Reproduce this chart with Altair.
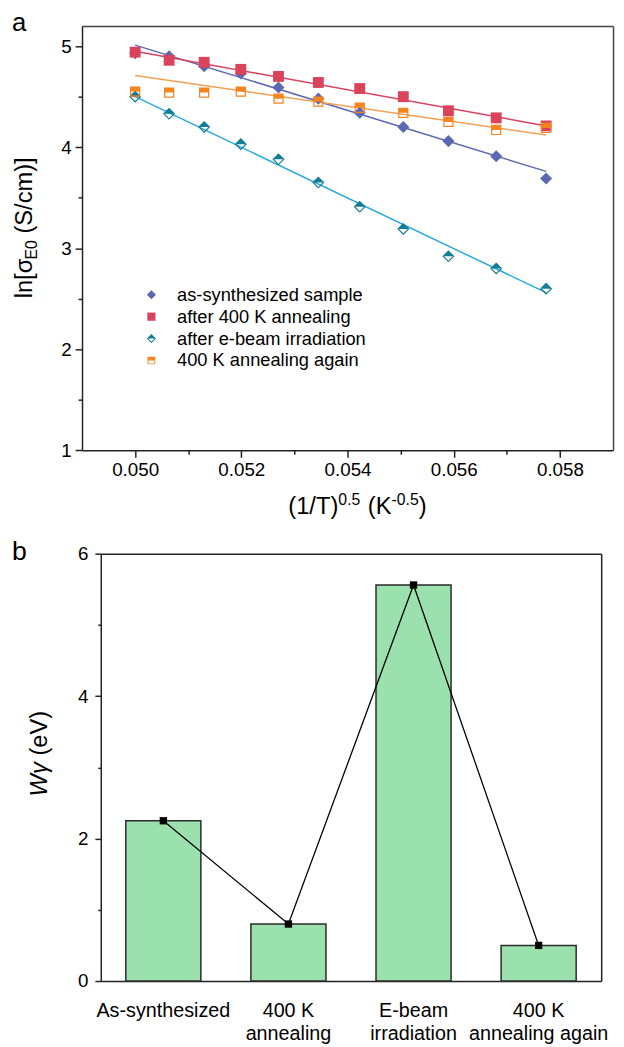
import altair as alt
import pandas as pd

FONT = "Liberation Sans"
W, H = 616, 1039

# ---------------- Panel a data ----------------
x_vals = [0.05000, 0.05064, 0.05130, 0.05199, 0.05270, 0.05345,
          0.05423, 0.05505, 0.05590, 0.05680, 0.05774]
series_names = ["as-synthesized sample", "after 400 K annealing",
                "after e-beam irradiation", "400 K annealing again"]
y_asyn = [4.93, 4.90, 4.80, 4.73, 4.59, 4.48, 4.34, 4.20, 4.06, 3.91, 3.69]
y_ann = [4.94, 4.86, 4.84, 4.77, 4.70, 4.64, 4.58, 4.50, 4.36, 4.29, 4.21]
y_ebeam = [4.50, 4.33, 4.20, 4.03, 3.88, 3.65, 3.41, 3.19, 2.92, 2.80, 2.60]
y_again = [4.55, 4.54, 4.54, 4.55, 4.48, 4.45, 4.39, 4.34, 4.25, 4.17, 4.19]

fit_x = [0.05000, 0.05774]
fit_asyn = [5.01, 3.76]
fit_ann = [4.95, 4.21]
fit_ebeam = [4.50, 2.56]
fit_again = [4.71, 4.12]

x_ticks = [0.050, 0.051, 0.052, 0.053, 0.054, 0.055, 0.056, 0.057, 0.058]
y_ticks_a = [1, 1.5, 2, 2.5, 3, 3.5, 4, 4.5, 5]

fill_colors = ["#5B69B2", "#D9435C", "#137C97", "#F5841F"]
line_colors = ["#5B69B2", "#D9435C", "#27AADB", "#F2A055"]
shape_paths = [
    "M0,-1L1,0L0,1L-1,0Z",
    "M-0.9,-0.9L0.9,-0.9L0.9,0.9L-0.9,0.9Z",
    "M-1,0L0,-1L1,0Z M-1,0L0,1L1,0L0.72,0L0,0.72L-0.72,0Z",
    "M-0.85,-0.85L0.85,-0.85L0.85,0L-0.85,0Z M-0.85,0L-0.85,0.85L0.85,0.85L0.85,0L0.65,0L0.65,0.65L-0.65,0.65L-0.65,0Z",
]

# ---------------- Panel b data ----------------
categories = ["As-synthesized", "400 K\nannealing", "E-beam\nirradiation",
              "400 K\nannealing again"]
w_gamma = [2.25, 0.80, 5.56, 0.50]

# ---------------- tables ----------------
all_y = [y_asyn, y_ann, y_ebeam, y_again]
pts = pd.DataFrame([
    {"series": s, "x": x, "y": y}
    for s, ys in zip(series_names, all_y) for x, y in zip(x_vals, ys)
])
all_fit = [fit_asyn, fit_ann, fit_ebeam, fit_again]
fits = pd.DataFrame([
    {"fit": s, "x": x, "y": y}
    for s, ys in zip(series_names, all_fit) for x, y in zip(fit_x, ys)
])
legend_df = pd.DataFrame({"series": series_names})
bars_df = pd.DataFrame({"cat": categories, "w": w_gamma})
one = pd.DataFrame({"k": [0]})

fill_scale = alt.Scale(domain=series_names, range=fill_colors)
shape_scale = alt.Scale(domain=series_names, range=shape_paths)

# ---------------- panel a (pixel ranges inside one view) ----------------
A_LEFT, A_RIGHT, A_TOP, A_BOTTOM = 75, 613, 11.3, 441.3
xs = alt.Scale(domain=[0.049, 0.059], range=[A_LEFT, A_RIGHT], nice=False, zero=False)
ys = alt.Scale(domain=[1, 5.2], range=[A_BOTTOM, A_TOP], nice=False, zero=False)

x_axis_a = alt.Axis(orient="bottom", offset=A_BOTTOM - H, values=x_ticks, title=None,
                    labelFontSize=19, labelPadding=4,
                    labelExpr="round(datum.value*1000) % 2 == 0 ? format(datum.value, '.3f') : ''",
                    tickSize={"condition": {"test": "round(datum.value*1000) % 2 == 1", "value": 4}, "value": 7},
                    grid=False)
y_axis_a = alt.Axis(orient="left", offset=-A_LEFT, values=y_ticks_a, title=None,
                    labelFontSize=19, labelPadding=4,
                    labelExpr="datum.value % 1 ? '' : format(datum.value, 'd')",
                    tickSize={"condition": {"test": "datum.value % 1 != 0", "value": 4}, "value": 7},
                    grid=False)
frame_top_a = alt.Axis(orient="top", offset=-A_TOP, labels=False, ticks=False, title=None,
                       grid=False, domainColor="#444")
frame_right_a = alt.Axis(orient="right", offset=A_RIGHT - W, labels=False, ticks=False,
                         title=None, grid=False, domainColor="#444")

lines_a = alt.Chart(fits).mark_line(strokeWidth=1.5).encode(
    x=alt.X("x:Q", scale=xs, axis=x_axis_a),
    y=alt.Y("y:Q", scale=ys, axis=y_axis_a),
    stroke=alt.Stroke("fit:N", scale=alt.Scale(domain=series_names, range=line_colors), legend=None),
    detail="fit:N",
)
points_a = alt.Chart(pts).mark_point(filled=True, strokeWidth=0, opacity=1, size=150).encode(
    x=alt.X("x:Q", scale=xs, axis=frame_top_a),
    y=alt.Y("y:Q", scale=ys, axis=frame_right_a),
    fill=alt.Fill("series:N", scale=fill_scale, legend=None),
    shape=alt.Shape("series:N", scale=shape_scale, legend=None),
)
panel_a = alt.layer(lines_a, points_a).resolve_axis(x="independent", y="independent")

# legend of panel a (rows placed by a point scale)
LEG_Y = alt.Y("series:N", scale=alt.Scale(type="point", domain=series_names,
                                            range=[283.7, 350.3], padding=0), axis=None)
leg_sym = alt.Chart(legend_df).mark_point(filled=True, strokeWidth=0, opacity=1, size=85).encode(
    x=alt.value(145.3), y=LEG_Y,
    fill=alt.Fill("series:N", scale=fill_scale, legend=None),
    shape=alt.Shape("series:N", scale=shape_scale, legend=None),
)
leg_txt = alt.Chart(legend_df).mark_text(align="left", baseline="middle", font=FONT,
                                         fontSize=18.5, color="black").encode(
    x=alt.value(171.3), y=LEG_Y, text="series:N")
legend_panel = alt.layer(leg_sym, leg_txt)

# ---------------- panel b ----------------
B_LEFT, B_RIGHT, B_TOP, B_BOTTOM = 94, 601, 546, 979
xb_scale = alt.Scale(range=[B_LEFT, B_RIGHT], paddingInner=0.4, paddingOuter=0.2)
yb_scale = alt.Scale(domain=[0, 6], range=[B_BOTTOM, B_TOP], nice=False)

xb_axis = alt.Axis(orient="bottom", offset=B_BOTTOM - H, title=None, ticks=False, labelAngle=0,
                   labelFontSize=20, labelPadding=30, labelBaseline="middle", labelLineHeight=23,
                   labelExpr="split(datum.label, '\\n')", grid=False)
yb_axis = alt.Axis(orient="left", offset=-B_LEFT, values=[0, 1, 2, 3, 4, 5, 6], title=None,
                   labelFontSize=19, labelPadding=7,
                   labelExpr="datum.value % 2 ? '' : format(datum.value, 'd')",
                   tickSize={"condition": {"test": "datum.value % 2 != 0", "value": 3}, "value": 6},
                   grid=False)
frame_top_b = alt.Axis(orient="top", offset=-B_TOP, labels=False, ticks=False, title=None,
                       grid=False, domainColor="#222")
frame_right_b = alt.Axis(orient="right", offset=B_RIGHT - W, labels=False, ticks=False,
                         title=None, grid=False, domainColor="#222")

bars = alt.Chart(bars_df).mark_bar(fill="#9BE1AE", stroke="#2A2A2A", strokeWidth=1.5).encode(
    x=alt.X("cat:N", sort=categories, scale=xb_scale, axis=xb_axis),
    y=alt.Y("w:Q", scale=yb_scale, axis=yb_axis))
conn = alt.Chart(bars_df).mark_line(color="black", strokeWidth=1.3).encode(
    x=alt.X("cat:N", sort=categories, axis=frame_top_b),
    y=alt.Y("w:Q", axis=frame_right_b))
sq = alt.Chart(bars_df).mark_point(shape="square", filled=True, color="black", size=55, opacity=1).encode(
    x=alt.X("cat:N", sort=categories), y=alt.Y("w:Q"))
panel_b = alt.layer(bars, alt.layer(conn, sq)).resolve_axis(x="independent", y="independent")


# ---------------- texts (view pixel coordinates) ----------------
def txt(t, x, y, size, angle=0, style="normal"):
    return alt.Chart(one).mark_text(
        text=t, font=FONT, fontSize=size, angle=angle, align="left",
        baseline="alphabetic", fontStyle=style, color="black"
    ).encode(x=alt.value(x), y=alt.value(y))


texts = [
    txt("a", 4, 16.5, 26),
    txt("ln[σ", 24, 287.3, 24, angle=270),
    txt("E0", 29, 248, 16, angle=270),
    txt("(S/cm)]", 24, 221.7, 24, angle=270),
    txt("(1/T)", 284, 506, 24),
    txt("0.5", 334.7, 497, 16),
    txt("(K", 364.6, 506, 24),
    txt("-0.5", 388.6, 497, 16),
    txt(")", 416.2, 506, 24),
    txt("b", 4, 552, 27),
    txt("Wγ", 40, 792, 24, angle=270, style="italic"),
    txt("(eV)", 40, 750.6, 24, angle=270),
]

chart = alt.layer(panel_a, legend_panel, panel_b, *texts).resolve_scale(
    x="independent", y="independent"
).resolve_axis(
    x="independent", y="independent"
).properties(
    width=W, height=H, padding=0, autosize=alt.AutoSizeParams(type="none")
).configure_axis(
    labelFont=FONT, labelColor="black", domainColor="#222", tickColor="#222",
    domainWidth=1.5, tickWidth=1.5
).configure_view(strokeWidth=0)

chart.save("out.html", embed_options={"renderer": "svg", "actions": False})
